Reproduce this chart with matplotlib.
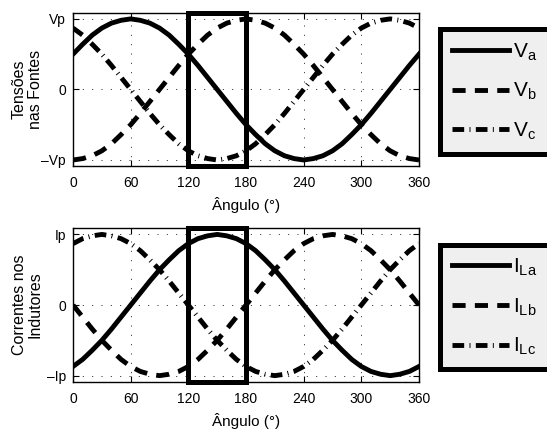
import matplotlib
matplotlib.use("Agg")
import matplotlib.pyplot as plt
from matplotlib.patches import Rectangle

plt.rcParams["font.family"] = ["Liberation Sans", "DejaVu Sans"]
plt.rcParams["mathtext.fontset"] = "custom"
plt.rcParams["mathtext.rm"] = "Liberation Sans"

# angle in degrees, 10 deg steps
ang = list(range(0, 361, 10))

# source voltages (per unit of Vp)
va = [.5, .64, .77, .87, .94, .98, 1, .98, .94, .87, .77, .64, .5, .34, .17, 0,
      -.17, -.34, -.5, -.64, -.77, -.87, -.94, -.98, -1, -.98, -.94, -.87, -.77,
      -.64, -.5, -.34, -.17, 0, .17, .34, .5]
vb = [-1, -.98, -.94, -.87, -.77, -.64, -.5, -.34, -.17, 0, .17, .34, .5, .64,
      .77, .87, .94, .98, 1, .98, .94, .87, .77, .64, .5, .34, .17, 0, -.17,
      -.34, -.5, -.64, -.77, -.87, -.94, -.98, -1]
vc = [.87, .77, .64, .5, .34, .17, 0, -.17, -.34, -.5, -.64, -.77, -.87, -.94,
      -.98, -1, -.98, -.94, -.87, -.77, -.64, -.5, -.34, -.17, 0, .17, .34, .5,
      .64, .77, .87, .94, .98, 1, .98, .94, .87]

# inductor currents (per unit of Ip)
ila = [-.87, -.77, -.64, -.5, -.34, -.17, 0, .17, .34, .5, .64, .77, .87, .94,
       .98, 1, .98, .94, .87, .77, .64, .5, .34, .17, 0, -.17, -.34, -.5, -.64,
       -.77, -.87, -.94, -.98, -1, -.98, -.94, -.87]
ilb = [0, -.17, -.34, -.5, -.64, -.77, -.87, -.94, -.98, -1, -.98, -.94, -.87,
       -.77, -.64, -.5, -.34, -.17, 0, .17, .34, .5, .64, .77, .87, .94, .98, 1,
       .98, .94, .87, .77, .64, .5, .34, .17, 0]
ilc = [.87, .94, .98, 1, .98, .94, .87, .77, .64, .5, .34, .17, 0, -.17, -.34,
       -.5, -.64, -.77, -.87, -.94, -.98, -1, -.98, -.94, -.87, -.77, -.64, -.5,
       -.34, -.17, 0, .17, .34, .5, .64, .77, .87]

xticks = [0, 60, 120, 180, 240, 300, 360]
win = (120, 180)  # highlighted interval

lw = 3.5
styles = ["-", (0, (2.7, 1.9)), (0, (2.4, 1.1, 0.2, 1.1))]

fig = plt.figure(figsize=(5.47, 4.3), dpi=100)
ax1 = fig.add_axes([0.1335, 0.614, 0.6325, 0.356])
ax2 = fig.add_axes([0.1335, 0.1116, 0.6325, 0.358])


def setup(ax, ylab, ytl, ylim):
    ax.set_xlim(0, 360)
    ax.set_ylim(-ylim, ylim)
    ax.set_xticks(xticks)
    ax.set_yticks([-1, 0, 1])
    ax.set_yticklabels(ytl)
    ax.tick_params(direction="in", length=4, width=0.8, labelsize=10,
                   top=True, right=True)
    ax.tick_params(axis="x", pad=7)
    ax.tick_params(axis="y", pad=5)
    ax.grid(True, color="black", lw=0.6, linestyle=(0, (1.2, 10)))
    ax.set_xlabel("Ângulo (°)", fontsize=11, labelpad=5)
    ax.set_ylabel(ylab, fontsize=11.5, linespacing=1.1)
    ax.yaxis.set_label_coords(-0.087, 0.5)
    for s in ax.spines.values():
        s.set_linewidth(1.0)
    ax.add_patch(Rectangle((win[0], -ylim), win[1] - win[0], 2 * ylim,
                           fill=False, ec="black", lw=3.6, clip_on=False,
                           zorder=5))


def draw(ax, series, labels, anchor):
    hs = []
    for y, ls in zip(series, styles):
        h, = ax.plot(ang, y, color="black", lw=lw, linestyle=ls,
                     dash_capstyle="butt")
        hs.append(h)
    leg = ax.legend(hs, labels, loc="upper left", bbox_to_anchor=anchor,
                    bbox_transform=fig.transFigure, mode="expand",
                    borderaxespad=0, fontsize=15, handlelength=2.7,
                    handletextpad=0.2, labelspacing=0.88, borderpad=0.58,
                    fancybox=False, framealpha=1, facecolor="#efefef",
                    edgecolor="black")
    leg.get_frame().set_linewidth(3.6)


setup(ax1, "Tensões\nnas Fontes", ["\u2013Vp", "0", "Vp"], 1.085)
draw(ax1, [va, vb, vc],
     [r"$\mathrm{V_a}$", r"$\mathrm{V_b}$", r"$\mathrm{V_c}$"],
     (0.805, 0.0, 0.25, 0.932))

setup(ax2, "Correntes nos\nIndutores", ["\u2013Ip", "0", "Ip"], 1.09)
draw(ax2, [ila, ilb, ilc],
     [r"$\mathrm{I_{La}}$", r"$\mathrm{I_{Lb}}$", r"$\mathrm{I_{Lc}}$"],
     (0.805, 0.0, 0.25, 0.431))

fig.savefig("out.png", dpi=100)
